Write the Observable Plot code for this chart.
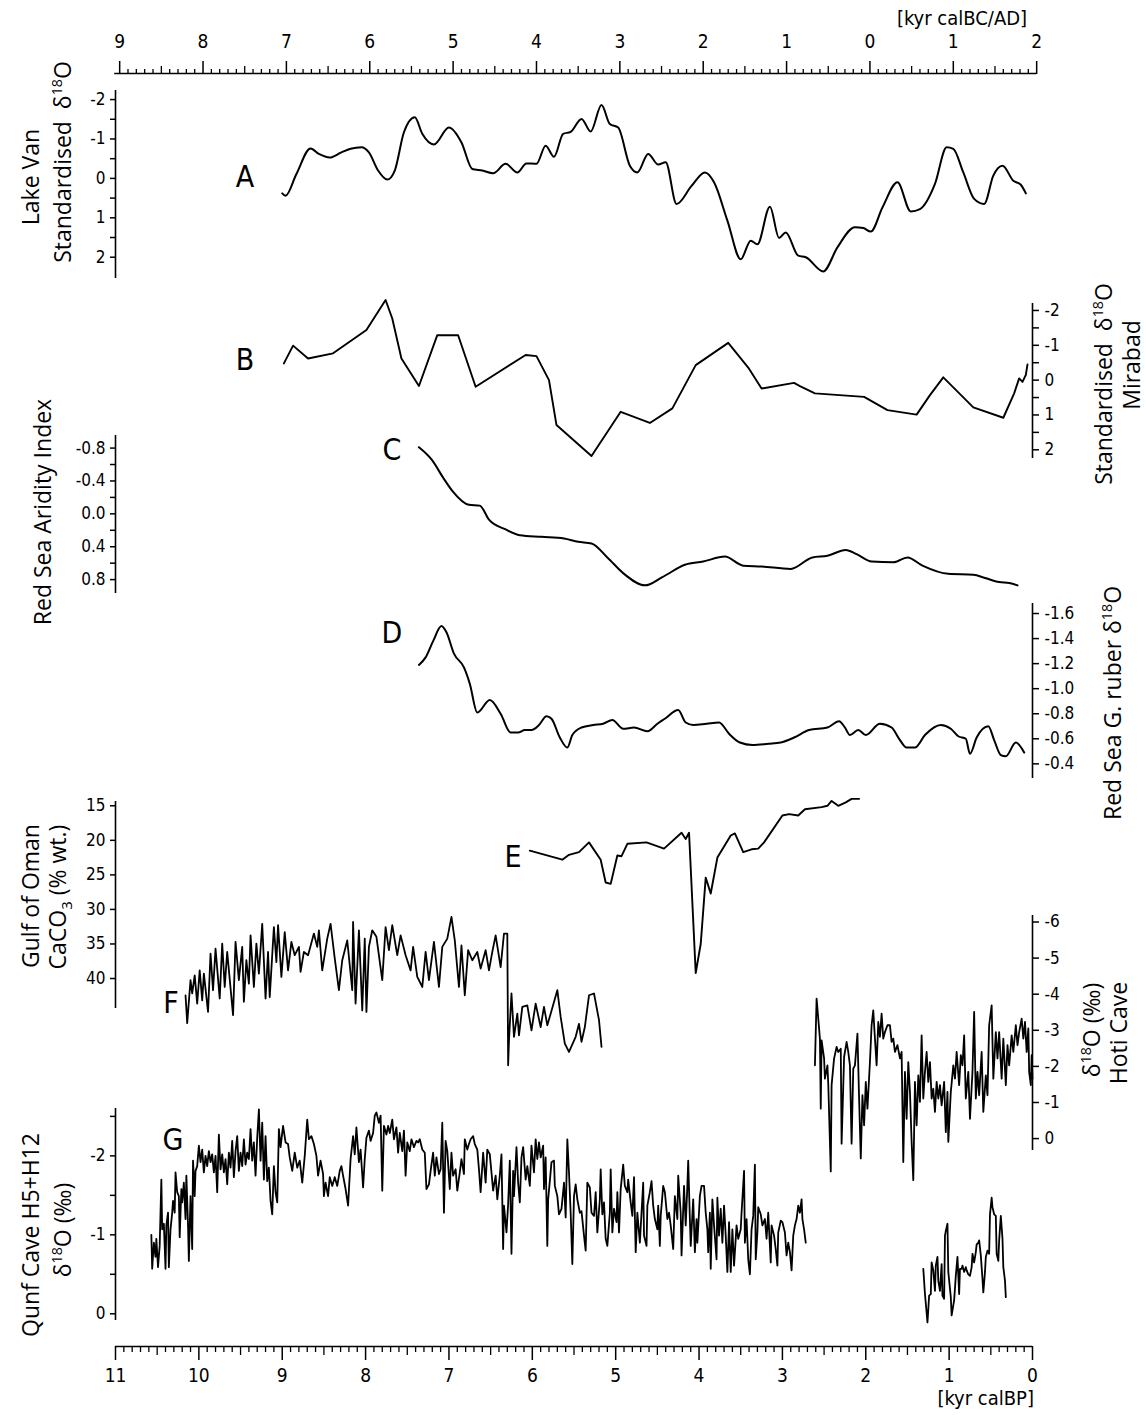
<!DOCTYPE html>
<html><head><meta charset="utf-8">
<script src="https://cdn.jsdelivr.net/npm/d3@7"></script>
<script src="https://cdn.jsdelivr.net/npm/@observablehq/plot@0.6"></script>
<style>
body{margin:0;background:#fff;}
#fig{position:relative;width:1146px;height:1417px;overflow:hidden;background:#fff;}
#fig svg{position:absolute;left:0;top:0;}
.t{position:absolute;white-space:nowrap;color:#000;line-height:1;font-family:"Open Sans",sans-serif;font-size:23px;}
.rot{transform:translate(-50%,-50%) rotate(-90deg);}
.ctr{transform:translate(-50%,-50%);}
.L{font-family:"Liberation Sans Narrow","DejaVu Sans Condensed","Open Sans",sans-serif;font-size:30px;}
.u{font-family:"Liberation Sans Narrow","DejaVu Sans Condensed","Open Sans",sans-serif;font-size:20px;}
sup{font-size:0.62em;vertical-align:0.6em;line-height:0;}
</style></head>
<body>
<div id="fig">
  <div class="t rot" style="left:30px;top:177px">Lake Van</div>
  <div class="t rot" style="left:62px;top:162px">Standardised &nbsp;δ<sup>18</sup>O</div>
  <div class="t rot" style="left:1103px;top:384px">Standardised &nbsp;δ<sup>18</sup>O</div>
  <div class="t rot" style="left:1131px;top:365px">Mirabad</div>
  <div class="t rot" style="left:42px;top:512px">Red Sea Aridity Index</div>
  <div class="t rot" style="left:1112px;top:703px">Red Sea G. ruber δ<sup>18</sup>O</div>
  <div class="t rot" style="left:30px;top:896px">Gulf of Oman</div>
  <div class="t rot" style="left:60px;top:897px">CaCO<sub style="font-size:0.65em">3</sub> (% wt.)</div>
  <div class="t rot" style="left:1091px;top:1030px">δ<sup>18</sup>O (‰)</div>
  <div class="t rot" style="left:1118px;top:1033px">Hoti Cave</div>
  <div class="t rot" style="left:30px;top:1235px">Qunf Cave H5+H12</div>
  <div class="t rot" style="left:62px;top:1230px">δ<sup>18</sup>O (‰)</div>
  <div class="t ctr L" style="left:245px;top:177px">A</div>
  <div class="t ctr L" style="left:245px;top:360px">B</div>
  <div class="t ctr L" style="left:392px;top:450px">C</div>
  <div class="t ctr L" style="left:392px;top:633px">D</div>
  <div class="t ctr L" style="left:513px;top:857px">E</div>
  <div class="t ctr L" style="left:171px;top:1003px">F</div>
  <div class="t ctr L" style="left:173px;top:1140px">G</div>
  <div class="t ctr u" style="left:962px;top:18px">[kyr calBC/AD]</div>
  <div class="t u" style="right:112px;top:1388px">[kyr calBP]</div>
</div>
<script>
// ---------- DATA (age in kyr calBP, value) ----------
const lakeVan = [[9.00,0.38],[8.96,0.44],[8.83,-0.11],[8.66,-0.76],[8.56,-0.62],[8.43,-0.53],[8.29,-0.66],[8.18,-0.75],[8.05,-0.79],[7.96,-0.66],[7.85,-0.20],[7.74,0.03],[7.65,-0.20],[7.54,-1.17],[7.41,-1.55],[7.32,-1.13],[7.18,-0.86],[7.00,-1.29],[6.85,-0.91],[6.72,-0.24],[6.60,-0.20],[6.47,-0.13],[6.32,-0.37],[6.18,-0.15],[6.07,-0.38],[5.95,-0.37],[5.84,-0.83],[5.74,-0.55],[5.63,-1.13],[5.54,-1.18],[5.41,-1.51],[5.30,-1.19],[5.17,-1.86],[5.07,-1.38],[4.97,-1.29],[4.83,-0.32],[4.74,-0.15],[4.61,-0.62],[4.49,-0.35],[4.40,-0.41],[4.27,0.65],[4.09,0.19],[3.93,-0.15],[3.82,0.10],[3.66,1.07],[3.50,2.05],[3.38,1.58],[3.30,1.67],[3.15,0.72],[3.04,1.51],[2.96,1.37],[2.81,1.96],[2.72,2.00],[2.51,2.36],[2.34,1.75],[2.13,1.24],[2.03,1.26],[1.94,1.35],[1.80,0.74],[1.62,0.10],[1.46,0.84],[1.35,0.78],[1.17,0.14],[1.03,-0.79],[0.95,-0.75],[0.83,-0.15],[0.70,0.52],[0.58,0.65],[0.47,-0.07],[0.36,-0.32],[0.23,0.06],[0.14,0.16],[0.08,0.38]];

const mirabad = [[8.98,-0.48],[8.87,-0.99],[8.69,-0.62],[8.39,-0.77],[7.99,-1.44],[7.76,-2.30],[7.68,-1.77],[7.57,-0.62],[7.36,0.17],[7.14,-1.29],[6.89,-1.29],[6.68,0.19],[6.08,-0.72],[5.95,-0.69],[5.80,0.00],[5.71,1.29],[5.29,2.18],[4.94,0.91],[4.59,1.23],[4.32,0.81],[4.04,-0.43],[3.65,-1.07],[3.41,-0.36],[3.25,0.24],[2.86,0.08],[2.79,0.17],[2.61,0.38],[2.02,0.48],[1.74,0.86],[1.39,0.99],[1.23,0.43],[1.07,-0.08],[0.71,0.78],[0.35,1.08],[0.22,0.38],[0.16,-0.05],[0.12,0.05],[0.08,-0.15],[0.06,-0.45]];

const redSeaAridity = [[7.36,-0.81],[7.20,-0.65],[7.07,-0.44],[6.96,-0.28],[6.76,-0.11],[6.63,-0.10],[6.52,0.07],[6.32,0.19],[6.15,0.26],[5.89,0.28],[5.62,0.30],[5.45,0.34],[5.29,0.36],[5.10,0.53],[4.90,0.73],[4.65,0.87],[4.44,0.77],[4.17,0.62],[3.95,0.58],[3.69,0.52],[3.47,0.63],[3.25,0.64],[2.90,0.67],[2.64,0.53],[2.46,0.51],[2.24,0.44],[2.11,0.49],[1.93,0.58],[1.67,0.59],[1.50,0.53],[1.32,0.63],[1.01,0.73],[0.71,0.74],[0.57,0.78],[0.40,0.83],[0.28,0.84],[0.18,0.87]];

const gRuber = [[7.36,-1.19],[7.28,-1.25],[7.19,-1.38],[7.09,-1.50],[7.03,-1.45],[6.94,-1.28],[6.82,-1.17],[6.75,-1.04],[6.66,-0.81],[6.51,-0.91],[6.38,-0.80],[6.26,-0.65],[6.17,-0.65],[6.09,-0.67],[6.01,-0.67],[5.92,-0.71],[5.83,-0.78],[5.77,-0.76],[5.67,-0.61],[5.58,-0.53],[5.52,-0.63],[5.41,-0.69],[5.27,-0.71],[5.15,-0.72],[5.04,-0.75],[4.91,-0.68],[4.78,-0.69],[4.62,-0.66],[4.50,-0.72],[4.41,-0.76],[4.25,-0.83],[4.16,-0.73],[4.07,-0.71],[3.91,-0.72],[3.76,-0.73],[3.64,-0.64],[3.51,-0.57],[3.36,-0.55],[3.17,-0.56],[3.02,-0.57],[2.86,-0.61],[2.68,-0.67],[2.46,-0.69],[2.32,-0.74],[2.25,-0.69],[2.19,-0.63],[2.09,-0.67],[2.00,-0.63],[1.83,-0.72],[1.69,-0.69],[1.60,-0.60],[1.51,-0.53],[1.41,-0.53],[1.29,-0.63],[1.10,-0.71],[0.98,-0.68],[0.89,-0.62],[0.80,-0.60],[0.75,-0.48],[0.67,-0.61],[0.53,-0.70],[0.46,-0.59],[0.38,-0.47],[0.32,-0.46],[0.20,-0.57],[0.10,-0.49]];

const gulfOmanCaCO3 = [[6.03,21.5],[5.64,22.8],[5.56,22.1],[5.44,21.7],[5.32,20.3],[5.18,22.8],[5.12,26.1],[5.06,26.3],[4.98,22.2],[4.93,22.3],[4.86,20.5],[4.63,20.3],[4.42,21.2],[4.21,18.9],[4.16,19.8],[4.12,18.9],[4.04,39.2],[3.98,35.0],[3.92,25.4],[3.86,27.7],[3.78,22.5],[3.62,19.3],[3.57,19.0],[3.47,21.7],[3.37,21.3],[3.29,21.2],[3.22,20.3],[3.00,16.4],[2.92,16.2],[2.81,16.4],[2.73,15.5],[2.53,15.2],[2.46,15.0],[2.41,14.3],[2.33,15.0],[2.24,14.5],[2.17,14.0],[2.08,14.0]];

const hotiEarly = [[10.16,-3.97],[10.14,-3.20],[10.10,-4.39],[10.08,-4.02],[10.05,-4.52],[10.02,-3.74],[9.99,-4.66],[9.96,-3.83],[9.94,-4.57],[9.89,-3.51],[9.86,-5.12],[9.83,-4.11],[9.80,-5.26],[9.75,-3.88],[9.72,-5.40],[9.69,-4.20],[9.66,-5.17],[9.59,-3.42],[9.56,-5.45],[9.52,-4.39],[9.48,-5.31],[9.46,-3.79],[9.43,-4.94],[9.40,-4.29],[9.38,-5.63],[9.34,-4.20],[9.31,-5.40],[9.28,-4.57],[9.24,-5.95],[9.20,-3.88],[9.17,-5.17],[9.15,-3.92],[9.10,-5.86],[9.07,-4.89],[9.05,-5.91],[9.01,-4.48],[8.97,-5.72],[8.93,-4.66],[8.89,-5.45],[8.85,-5.08],[8.80,-5.31],[8.78,-4.62],[8.74,-5.17],[8.69,-5.08],[8.62,-5.68],[8.58,-5.31],[8.56,-5.77],[8.52,-4.66],[8.46,-5.54],[8.42,-5.95],[8.37,-4.99],[8.32,-4.11],[8.28,-4.94],[8.22,-5.49],[8.16,-4.11],[8.15,-6.00],[8.12,-3.74],[8.08,-5.77],[8.04,-3.55],[8.01,-5.54],[7.99,-3.51],[7.96,-5.31],[7.92,-5.77],[7.87,-5.59],[7.80,-4.39],[7.76,-5.86],[7.72,-5.22],[7.68,-5.91],[7.62,-5.08],[7.58,-5.63],[7.52,-5.08],[7.46,-4.66],[7.43,-5.31],[7.38,-4.48],[7.32,-4.20],[7.28,-5.17],[7.24,-4.39],[7.18,-5.45],[7.12,-4.20],[7.08,-5.31],[7.02,-5.54],[6.97,-6.14],[6.93,-5.49],[6.88,-4.20],[6.85,-5.35],[6.81,-3.97],[6.77,-5.22],[6.72,-4.94],[6.66,-5.17],[6.62,-4.71],[6.56,-5.22],[6.52,-4.66],[6.48,-5.17],[6.44,-5.63],[6.38,-4.75],[6.34,-5.68],[6.30,-5.68],[6.29,-2.03],[6.28,-2.72],[6.25,-4.02],[6.22,-2.82],[6.18,-3.46],[6.16,-2.86],[6.12,-3.65],[6.06,-3.69],[6.01,-3.00],[5.96,-3.74],[5.90,-3.09],[5.86,-3.65],[5.82,-3.14],[5.78,-3.46],[5.70,-4.11],[5.66,-3.37],[5.61,-2.63],[5.56,-2.40],[5.48,-2.82],[5.44,-3.18],[5.41,-2.68],[5.37,-3.09],[5.32,-3.97],[5.26,-4.02],[5.20,-3.28],[5.17,-2.54]];

const hotiLate = [[2.61,-2.03],[2.59,-3.88],[2.55,-2.77],[2.54,-0.83],[2.53,-2.72],[2.50,-2.22],[2.49,-1.66],[2.46,-2.03],[2.45,-1.52],[2.42,0.91],[2.41,-1.48],[2.38,-2.22],[2.35,-2.54],[2.33,-2.40],[2.30,-2.49],[2.29,0.14],[2.26,-2.26],[2.23,-2.68],[2.21,-2.40],[2.19,-2.03],[2.17,0.14],[2.15,-1.94],[2.13,-2.03],[2.10,-2.91],[2.08,-1.11],[2.06,0.55],[2.04,-1.20],[2.02,-0.37],[2.00,-1.57],[1.98,-0.83],[1.95,-2.12],[1.93,-3.14],[1.91,-3.55],[1.89,-2.77],[1.87,-2.03],[1.85,-3.23],[1.83,-2.82],[1.81,-3.46],[1.79,-2.77],[1.77,-2.95],[1.74,-3.14],[1.71,-3.14],[1.69,-2.68],[1.67,-2.77],[1.65,-2.40],[1.62,-2.59],[1.59,-2.22],[1.57,-2.40],[1.55,0.65],[1.53,-1.85],[1.51,-0.55],[1.49,-2.12],[1.47,-1.29],[1.45,0.09],[1.43,1.15],[1.41,-1.57],[1.39,-0.37],[1.37,-1.75],[1.35,-1.02],[1.33,-2.86],[1.31,-1.11],[1.29,-1.85],[1.27,-2.40],[1.25,-1.57],[1.23,-2.12],[1.21,-1.11],[1.19,-1.38],[1.17,-0.74],[1.15,-1.57],[1.13,-1.11],[1.11,-1.48],[1.09,-0.92],[1.06,-1.57],[1.04,-0.18],[1.02,-1.29],[1.01,0.09],[0.98,-1.29],[0.95,-2.03],[0.93,-1.66],[0.91,-2.40],[0.88,-1.48],[0.86,-2.31],[0.84,-2.03],[0.82,-2.86],[0.80,-1.11],[0.77,-1.85],[0.75,-0.55],[0.72,-1.85],[0.70,-3.51],[0.68,-1.11],[0.66,-1.85],[0.64,-1.20],[0.61,-2.40],[0.59,-0.74],[0.56,-1.75],[0.54,-1.20],[0.52,-3.14],[0.49,-3.69],[0.47,-1.66],[0.44,-2.95],[0.42,-2.22],[0.40,-2.95],[0.37,-1.66],[0.35,-2.77],[0.32,-1.48],[0.30,-2.59],[0.28,-2.03],[0.25,-2.86],[0.23,-2.40],[0.20,-3.14],[0.18,-2.59],[0.16,-2.95],[0.13,-3.32],[0.11,-2.77],[0.09,-3.23],[0.07,-2.40],[0.05,-3.05],[0.04,-1.85],[0.02,-1.48],[0.01,-2.31],[0.00,-1.66]];

const qunfEarlyMid = [[10.57,-1.00],[10.56,-0.57],[10.54,-0.90],[10.52,-0.72],[10.51,-0.95],[10.49,-0.59],[10.47,-0.86],[10.45,-1.70],[10.44,-1.07],[10.42,-1.14],[10.40,-0.57],[10.39,-1.12],[10.37,-1.28],[10.36,-0.59],[10.34,-1.07],[10.32,-1.28],[10.31,-1.43],[10.29,-1.28],[10.28,-1.79],[10.26,-1.54],[10.24,-1.49],[10.23,-0.97],[10.21,-1.58],[10.20,-1.41],[10.18,-1.66],[10.16,-1.20],[10.15,-1.75],[10.13,-1.12],[10.12,-0.67],[10.10,-1.49],[10.08,-0.82],[10.07,-1.94],[10.05,-1.49],[10.04,-1.81],[10.02,-1.87],[10.00,-2.13],[9.98,-1.92],[9.96,-2.08],[9.94,-1.79],[9.92,-2.00],[9.90,-1.87],[9.88,-2.06],[9.86,-1.92],[9.84,-2.02],[9.82,-1.79],[9.80,-2.00],[9.78,-1.54],[9.76,-2.27],[9.74,-1.83],[9.72,-2.02],[9.70,-1.79],[9.68,-1.96],[9.66,-1.64],[9.64,-2.04],[9.62,-1.85],[9.60,-2.19],[9.58,-1.73],[9.56,-2.06],[9.54,-2.25],[9.52,-1.81],[9.50,-2.04],[9.48,-1.87],[9.46,-2.21],[9.44,-1.89],[9.42,-2.04],[9.40,-1.96],[9.38,-2.34],[9.36,-1.94],[9.34,-2.17],[9.32,-1.75],[9.30,-2.23],[9.28,-2.59],[9.26,-1.94],[9.24,-2.42],[9.22,-1.70],[9.20,-2.25],[9.18,-1.68],[9.16,-1.85],[9.14,-1.43],[9.12,-1.26],[9.10,-1.87],[9.08,-1.54],[9.06,-1.41],[9.04,-2.34],[9.02,-2.11],[8.99,-2.38],[8.96,-2.17],[8.93,-2.15],[8.91,-1.98],[8.88,-1.81],[8.85,-2.04],[8.82,-1.85],[8.79,-1.94],[8.76,-1.66],[8.73,-2.00],[8.70,-2.46],[8.68,-2.21],[8.65,-2.25],[8.62,-2.15],[8.59,-2.00],[8.57,-1.75],[8.54,-1.94],[8.51,-1.77],[8.50,-1.49],[8.48,-1.66],[8.45,-1.49],[8.43,-1.73],[8.40,-1.62],[8.37,-1.73],[8.34,-1.62],[8.31,-1.81],[8.29,-1.87],[8.27,-1.75],[8.24,-1.58],[8.21,-1.37],[8.18,-1.96],[8.15,-2.25],[8.13,-2.02],[8.11,-2.36],[8.08,-1.92],[8.06,-2.08],[8.03,-1.60],[8.01,-1.96],[7.99,-2.23],[7.96,-2.32],[7.94,-2.19],[7.91,-2.29],[7.89,-2.51],[7.87,-2.55],[7.84,-2.42],[7.82,-2.51],[7.80,-1.56],[7.78,-2.38],[7.75,-2.27],[7.73,-2.38],[7.71,-2.29],[7.68,-2.46],[7.66,-2.21],[7.63,-2.36],[7.61,-2.04],[7.59,-2.29],[7.56,-2.06],[7.54,-2.32],[7.52,-1.75],[7.50,-2.17],[7.47,-2.06],[7.45,-2.21],[7.42,-2.11],[7.39,-2.19],[7.37,-2.17],[7.35,-2.21],[7.32,-2.08],[7.29,-2.04],[7.27,-1.58],[7.24,-1.64],[7.22,-1.81],[7.19,-2.04],[7.17,-1.75],[7.15,-1.98],[7.12,-1.77],[7.10,-1.83],[7.08,-2.42],[7.06,-1.28],[7.04,-2.19],[7.02,-2.06],[6.99,-1.58],[6.97,-2.04],[6.95,-1.75],[6.92,-1.83],[6.90,-1.56],[6.87,-1.79],[6.85,-1.96],[6.82,-1.77],[6.81,-2.21],[6.78,-2.08],[6.76,-2.15],[6.74,-2.21],[6.71,-2.25],[6.69,-2.15],[6.66,-2.08],[6.64,-1.83],[6.62,-1.54],
[6.59,-2.04],[6.56,-1.66],[6.54,-2.08],[6.51,-2.02],[6.49,-1.79],[6.47,-1.56],[6.44,-1.75],[6.42,-1.45],[6.39,-1.75],[6.37,-2.02],[6.35,-0.82],[6.34,-1.37],[6.31,-1.03],[6.29,-1.39],[6.27,-1.94],[6.25,-0.76],[6.23,-1.81],[6.22,-1.49],[6.19,-2.11],[6.17,-1.66],[6.15,-1.41],[6.13,-1.98],[6.11,-2.11],[6.08,-1.70],[6.06,-1.87],[6.03,-1.62],[6.01,-2.13],[5.98,-1.79],[5.96,-2.21],[5.94,-1.96],[5.92,-2.17],[5.90,-1.98],[5.87,-2.13],[5.86,-1.58],[5.84,-1.98],[5.82,-0.86],[5.81,-1.45],[5.79,-1.68],[5.77,-1.92],[5.74,-1.94],[5.73,-1.62],[5.70,-1.49],[5.68,-1.26],[5.65,-1.33],[5.62,-1.66],[5.60,-1.22],[5.58,-2.21],[5.56,-1.79],[5.54,-1.28],[5.52,-0.63],[5.50,-1.49],[5.48,-1.64],[5.46,-1.45],[5.43,-1.28],[5.41,-1.30],[5.38,-0.99],[5.36,-0.80],[5.34,-1.66],[5.31,-1.60],[5.29,-1.28],[5.26,-1.24],[5.24,-1.54],[5.22,-1.03],[5.19,-1.45],[5.18,-1.83],[5.16,-1.26],[5.14,-1.41],[5.12,-0.95],[5.10,-0.86],[5.07,-1.28],[5.06,-1.83],[5.04,-1.03],[5.02,-1.33],[4.99,-1.16],[4.98,-1.54],[4.96,-1.03],[4.94,-1.58],[4.91,-1.89],[4.89,-1.62],[4.86,-1.54],[4.85,-1.70],[4.82,-1.41],[4.80,-1.24],[4.78,-1.73],[4.76,-0.78],[4.74,-1.28],[4.71,-0.90],[4.69,-1.28],[4.67,-1.66],[4.66,-0.99],[4.63,-0.86],[4.62,-1.37],[4.59,-1.54],[4.57,-1.68],[4.55,-1.37],[4.53,-1.20],[4.50,-1.07],[4.49,-1.37],[4.47,-0.86],[4.46,-1.24],[4.43,-1.62],[4.41,-1.54],[4.38,-1.20],[4.36,-1.28],[4.34,-1.12],[4.31,-0.82],[4.29,-1.49],[4.26,-1.20],[4.25,-1.75],[4.22,-1.28],[4.21,-0.74],[4.18,-1.62],[4.16,-1.12],[4.14,-1.62],[4.13,-1.94],[4.11,-1.20],[4.10,-0.86],[4.07,-1.45],[4.05,-0.78],[4.03,-1.20],[4.02,-0.90],[3.99,-1.49],[3.97,-1.62],[3.94,-1.62],[3.92,-1.28],[3.90,-1.07],[3.89,-0.78],[3.87,-1.28],[3.86,-0.57],[3.84,-1.45],[3.82,-1.12],[3.79,-0.69],[3.78,-1.47],[3.76,-0.99],[3.74,-1.33],[3.72,-0.90],[3.70,-1.37],[3.68,-0.99],[3.66,-0.53],[3.64,-1.16],[3.62,-0.53],[3.60,-1.07],[3.58,-0.61],[3.55,-1.12],[3.53,-0.95],[3.50,-1.07],[3.49,-1.28],[3.46,-1.81],[3.45,-0.90],[3.43,-1.20],[3.41,-0.69],[3.39,-0.50],[3.37,-1.07],[3.35,-1.24],[3.33,-1.89],[3.32,-0.69],[3.30,-1.03],[3.29,-1.35],[3.26,-1.26],[3.24,-1.12],[3.21,-1.20],[3.19,-0.95],[3.17,-1.28],[3.14,-0.65],[3.13,-1.12],[3.10,-0.99],[3.08,-0.82],[3.06,-0.61],[3.05,-1.03],[3.02,-1.18],[3.00,-1.16],[2.97,-1.03],[2.95,-0.74],[2.93,-0.90],[2.91,-0.78],[2.89,-0.55],[2.87,-0.99],[2.85,-1.12],[2.83,-1.20],[2.81,-1.37],[2.79,-1.28],[2.77,-1.45],[2.76,-1.20],[2.74,-1.07],[2.72,-0.90]];

const qunfLate = [[1.31,-0.57],[1.29,-0.25],[1.26,0.11],[1.24,-0.23],[1.22,-0.25],[1.21,-0.65],[1.19,-0.55],[1.17,-0.29],[1.16,-0.61],[1.14,-0.72],[1.13,-0.42],[1.11,-0.29],[1.09,-0.63],[1.08,-0.23],[1.06,-0.19],[1.05,-0.99],[1.04,-1.05],[1.02,-1.14],[1.01,-0.53],[0.98,-0.21],[0.97,0.02],[0.94,-0.17],[0.92,-0.48],[0.90,-0.72],[0.88,-0.25],[0.87,-0.57],[0.85,-0.57],[0.84,-0.61],[0.82,-0.53],[0.80,-0.59],[0.79,-0.55],[0.77,-0.50],[0.75,-0.48],[0.73,-0.59],[0.72,-0.76],[0.70,-0.65],[0.68,-0.78],[0.67,-0.88],[0.65,-0.90],[0.64,-0.93],[0.62,-0.74],[0.60,-0.44],[0.59,-0.27],[0.57,-0.53],[0.56,-0.72],[0.54,-0.80],[0.52,-0.76],[0.51,-1.26],[0.49,-1.47],[0.48,-1.35],[0.46,-1.26],[0.44,-1.24],[0.43,-0.76],[0.41,-0.67],[0.40,-0.93],[0.38,-1.24],[0.36,-0.95],[0.35,-0.59],[0.33,-0.42],[0.32,-0.21]];

// ---------- TICKS ----------
const bottomTicks = [11,10,9,8,7,6,5,4,3,2,1,0];
const bottomLabels = ["11","10","9","8","7","6","5","4","3","2","1","0"];
const topTicks = [10.95,9.95,8.95,7.95,6.95,5.95,4.95,3.95,2.95,1.95,0.95,-0.05]; // BC 9..1, 0, AD 1, 2 in kyr BP
const topLabels = ["9","8","7","6","5","4","3","2","1","0","1","2"];
const topHalf = d3.range(5, 110, 10).map(i => 10.95 - i / 10);
const topMinor = d3.range(1, 110).filter(i => i % 5 !== 0).map(i => 10.95 - i / 10);
const botHalf = d3.range(5, 110, 10).map(i => 11 - i / 10);
const botMinor = d3.range(1, 110).filter(i => i % 5 !== 0).map(i => 11 - i / 10);

const ticksVan = [-2,-1,0,1,2], minorVan = [-1.5,-0.5,0.5,1.5];
const ticksMirabad = [-2,-1,0,1,2], minorMirabad = [-1.5,-0.5,0.5,1.5];
const ticksArid = [-0.8,-0.4,0,0.4,0.8], minorArid = [-0.6,-0.2,0.2,0.6];
const ticksRuber = [-1.6,-1.4,-1.2,-1.0,-0.8,-0.6,-0.4];
const ticksCaCO3 = [15,20,25,30,35,40];
const ticksHoti = [-6,-5,-4,-3,-2,-1,0];
const ticksQunf = [-2,-1,0], minorQunf = [-2.5,-1.5,-0.5];

// ---------- LAYOUT ----------
const W = 1146, H = 1417, ML = 115, MR = 114;
const tickFont = "'Liberation Sans Narrow','DejaVu Sans Condensed','Open Sans',sans-serif";
const fig = document.getElementById("fig");

function panel({top, bottom, domain, side, ticks, minor, fmt, series, curve = "linear", sw = 1.8}) {
  const right = side === "right";
  const marks = [
    Plot.ruleX([right ? 0 : 11], {strokeWidth: 1.6}),
    Plot.axisY({anchor: side, ticks, tickSize: right ? 6 : 5, tickPadding: right ? 6 : 5,
                tickFormat: fmt, label: null, strokeWidth: 1.5})
  ];
  if (minor) marks.push(Plot.axisY({anchor: side, ticks: minor, tickSize: right ? 6 : 5,
                tickFormat: () => "", label: null, strokeWidth: 1.5}));
  for (const s of series) marks.push(Plot.line(s, {stroke: "#000", strokeWidth: sw, curve}));
  return Plot.plot({
    width: W, height: H, marginLeft: ML, marginRight: MR,
    marginTop: top, marginBottom: H - bottom,
    x: {domain: [11, 0], axis: null},
    y: {domain},
    style: {background: "transparent", color: "#000", fontFamily: tickFont, fontSize: "17px", overflow: "visible"},
    marks
  });
}

const num = d => String(d);
const fix1 = d => d.toFixed(1);

const plots = [
  Plot.plot({
    width: W, height: H, marginLeft: ML, marginRight: MR, marginTop: 73, marginBottom: H - 1346,
    x: {domain: [11, 0]}, y: {domain: [0, 1], axis: null},
    style: {background: "transparent", color: "#000", fontFamily: tickFont, fontSize: "19px", overflow: "visible"},
    marks: [
      Plot.ruleY([1], {x1: 11.01, x2: -0.05, strokeWidth: 1.7}),
      Plot.ruleY([0], {x1: 11, x2: 0, strokeWidth: 1.7}),
      Plot.axisX({anchor: "top", ticks: topTicks, tickSize: 13, tickPadding: 13, label: null, strokeWidth: 1.5,
                  tickFormat: d => topLabels[topTicks.indexOf(d)]}),
      Plot.axisX({anchor: "top", ticks: topHalf, tickSize: 8, tickFormat: () => "", label: null, strokeWidth: 1.3}),
      Plot.axisX({anchor: "top", ticks: topMinor, tickSize: 5, tickFormat: () => "", label: null, strokeWidth: 1.3}),
      Plot.axisX({anchor: "bottom", ticks: bottomTicks, tickSize: 14, tickPadding: 8, label: null, strokeWidth: 1.5,
                  tickFormat: d => bottomLabels[bottomTicks.indexOf(d)]}),
      Plot.axisX({anchor: "bottom", ticks: botHalf, tickSize: 9, tickFormat: () => "", label: null, strokeWidth: 1.3}),
      Plot.axisX({anchor: "bottom", ticks: botMinor, tickSize: 6, tickFormat: () => "", label: null, strokeWidth: 1.3})
    ]
  }),
  panel({top: 90, bottom: 278, domain: [2.54, -2.23], side: "left", ticks: ticksVan, minor: minorVan, fmt: num, series: [lakeVan], curve: "monotone-x", sw: 2}),
  panel({top: 303, bottom: 458, domain: [2.25, -2.2], side: "right", ticks: ticksMirabad, minor: minorMirabad, fmt: num, series: [mirabad], sw: 1.9}),
  panel({top: 435, bottom: 593, domain: [0.969, -0.953], side: "left", ticks: ticksArid, minor: minorArid, fmt: fix1, series: [redSeaAridity], curve: "monotone-x", sw: 2}),
  panel({top: 603, bottom: 778, domain: [-0.283, -1.68], side: "right", ticks: ticksRuber, fmt: fix1, series: [gRuber], curve: "monotone-x", sw: 2}),
  panel({top: 801, bottom: 1008, domain: [44.34, 14.38], side: "left", ticks: ticksCaCO3, fmt: num, series: [gulfOmanCaCO3], sw: 1.9}),
  panel({top: 915, bottom: 1150, domain: [0.33, -6.18], side: "right", ticks: ticksHoti, fmt: num, series: [hotiEarly, hotiLate], sw: 1.8}),
  panel({top: 1108, bottom: 1320, domain: [0.085, -2.60], side: "left", ticks: ticksQunf, minor: minorQunf, fmt: num, series: [qunfEarlyMid, qunfLate], sw: 1.8})
];
for (const p of plots) fig.insertBefore(p, fig.firstChild);
</script>
</body></html>
